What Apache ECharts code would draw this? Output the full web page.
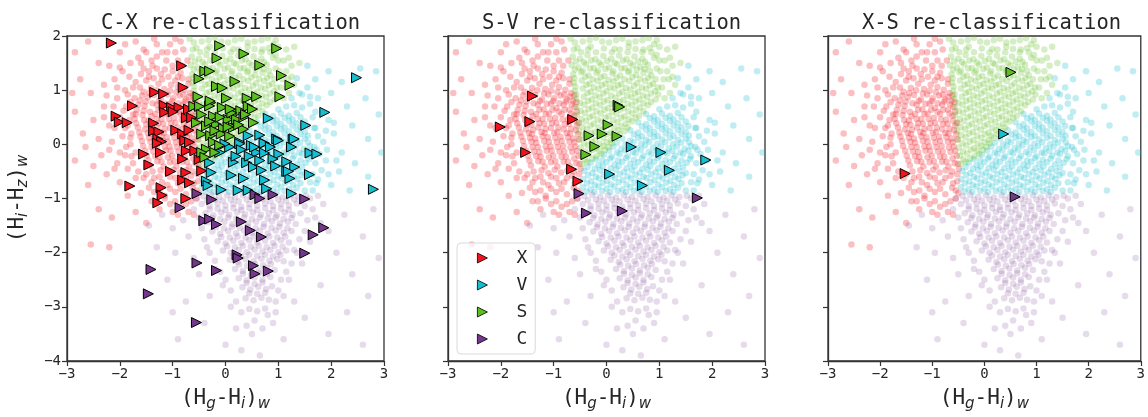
<!DOCTYPE html>
<html><head><meta charset="utf-8">
<script src="https://cdn.jsdelivr.net/npm/echarts@6/dist/echarts.min.js"></script>
<style>html,body{margin:0;padding:0;background:#fff}#c{width:1148px;height:417px}</style>
</head><body><div id="c"></div>
<script>
// ---------- tick labels / titles ----------
const xTicks = [-3,-2,-1,0,1,2,3];
const yTicks = [-4,-3,-2,-1,0,1,2];
const panelTitles = ['C-X re-classification','S-V re-classification','X-S re-classification'];
const classNames = ['X','V','S','C'];

// ---------- background population (shared by all panels) ----------
const bgX = [
[-1.55,0.97],[-1.41,1.04],[-1.27,1.12],[-1.16,1.02],[-1.03,1.1],[-0.9,1.06],[-0.78,1.01],[-0.67,0.95],
[-1.62,0.81],[-1.47,0.87],[-1.35,0.91],[-1.22,0.83],[-1.1,0.92],[-0.99,0.85],[-0.87,0.9],[-0.75,0.83],[-0.63,0.8],
[-1.68,0.64],[-1.53,0.71],[-1.43,0.6],[-1.3,0.73],[-1.19,0.65],[-1.05,0.75],[-0.95,0.67],[-0.81,0.73],[-0.7,0.64],[-0.6,0.69],
[-1.72,0.47],[-1.57,0.54],[-1.45,0.44],[-1.33,0.56],[-1.21,0.47],[-1.09,0.57],[-0.97,0.49],[-0.85,0.56],[-0.73,0.46],[-0.61,0.53],
[-1.66,0.31],[-1.5,0.37],[-1.39,0.27],[-1.27,0.39],[-1.15,0.29],[-1.03,0.39],[-0.91,0.31],[-0.79,0.37],[-0.67,0.29],[-0.56,0.35],
[-1.61,0.14],[-1.47,0.21],[-1.35,0.11],[-1.23,0.23],[-1.11,0.13],[-0.99,0.21],[-0.87,0.14],[-0.75,0.21],[-0.63,0.11],[-0.54,0.19],
[-1.56,-0.03],[-1.42,0.05],[-1.3,-0.05],[-1.18,0.06],[-1.06,-0.04],[-0.94,0.04],[-0.82,-0.03],[-0.7,0.05],[-0.59,-0.04],
[-1.49,-0.21],[-1.37,-0.13],[-1.25,-0.23],[-1.13,-0.12],[-1.01,-0.21],[-0.89,-0.13],[-0.77,-0.23],[-0.65,-0.14],[-0.53,-0.21],
[-1.43,-0.39],[-1.29,-0.31],[-1.17,-0.41],[-1.05,-0.33],[-0.93,-0.41],[-0.81,-0.32],[-0.69,-0.41],[-0.57,-0.35],[-0.49,-0.45],
[-1.5,1.18],[-1.36,1.22],[-1.2,1.2],[-1.08,1.25],[-0.95,1.18],[-0.82,1.22],[-0.7,1.12],
[-1.58,0.9],[-1.44,0.95],[-1.31,1.0],[-1.18,0.94],[-1.05,0.99],[-0.93,0.96],[-0.8,0.92],[-0.69,0.88],[-0.61,0.9],
[-1.65,0.73],[-1.51,0.79],[-1.38,0.76],[-1.26,0.8],[-1.13,0.75],[-1.01,0.8],[-0.89,0.76],[-0.77,0.79],[-0.66,0.74],[-0.57,0.78],
[-1.7,0.56],[-1.55,0.62],[-1.4,0.52],[-1.27,0.64],[-1.15,0.56],[-1.02,0.64],[-0.9,0.6],[-0.79,0.64],[-0.67,0.57],[-0.56,0.6],
[-1.69,0.39],[-1.54,0.45],[-1.42,0.36],[-1.3,0.47],[-1.18,0.38],[-1.07,0.47],[-0.95,0.4],[-0.83,0.46],[-0.71,0.38],[-0.6,0.44],[-0.52,0.4],
[-1.63,0.22],[-1.52,0.28],[-1.41,0.19],[-1.29,0.31],[-1.17,0.21],[-1.05,0.3],[-0.93,0.23],[-0.81,0.28],[-0.69,0.2],[-0.58,0.26],
[-1.58,0.06],[-1.45,0.12],[-1.33,0.03],[-1.21,0.15],[-1.09,0.05],[-0.97,0.12],[-0.85,0.06],[-0.73,0.13],[-0.61,0.04],[-0.52,0.09],
[-1.52,-0.12],[-1.4,-0.05],[-1.27,-0.14],[-1.15,-0.04],[-1.04,-0.12],[-0.92,-0.05],[-0.8,-0.13],[-0.68,-0.06],[-0.56,-0.12],
[-1.46,-0.3],[-1.33,-0.22],[-1.21,-0.32],[-1.09,-0.24],[-0.97,-0.31],[-0.85,-0.23],[-0.73,-0.32],[-0.61,-0.26],[-0.51,-0.36],
[-1.38,-0.5],[-1.23,-0.48],[-1.1,-0.53],[-0.98,-0.47],[-0.86,-0.52],[-0.74,-0.48],[-0.62,-0.5],[-0.52,-0.55],
[-1.82,1.25],[-1.75,1.05],[-1.85,0.92],[-1.8,0.78],[-1.93,0.62],[-1.82,0.45],[-1.9,0.3],[-1.8,0.12],[-1.88,-0.05],[-1.78,-0.22],[-1.85,-0.45],[-1.7,-0.62],
[-2.05,1.05],[-2.12,0.7],[-2.1,0.3],[-2.15,0.05],[-2.0,-0.15],[-2.1,-0.45],[-2.3,0.5],[-2.35,-0.2],[-2.0,1.42],[-2.25,0.9],
[-1.5,-0.55],[-1.35,-0.62],[-1.2,-0.7],[-1.05,-0.6],[-0.9,-0.72],[-0.75,-0.62],[-0.6,-0.72],[-1.45,-0.8],[-1.25,-0.85],[-1.05,-0.82],[-0.85,-0.82],[-0.62,-0.8],[-0.5,-0.9],
[-1.15,-1.0],[-0.95,-1.05],[-0.75,-1.1],[-0.55,-1.0],[-1.3,-1.05],[-1.0,-1.25],[-0.6,-1.3],
[-1.6,1.3],[-1.45,1.35],[-1.3,1.4],[-1.15,1.38],[-1.0,1.45],[-0.85,1.32],[-1.6,1.5],[-1.4,1.55],[-1.2,1.7],[-0.9,1.55],[-0.8,1.75],[-1.1,1.7],[-1.55,1.75],[-1.35,1.95],[-0.95,1.95],
[-2.1,1.2],[-1.95,1.35],[-1.8,1.5],[-1.65,1.6],[-1.5,1.7],[-1.3,1.62],[-1.12,1.55],[-0.95,1.7],[-0.82,1.45],[-1.0,1.35],
[-1.22,1.3],[-1.45,1.25],[-1.7,1.15],[-1.9,1.0],[-2.05,0.85],[-1.88,0.7],[-2.0,0.5],[-1.85,0.35],[-1.95,0.15],[-1.8,0.0],
[-1.9,-0.2],[-1.75,-0.35],[-1.65,-0.5],[-1.55,-0.62],[-1.4,-0.7],[-1.25,-0.6],[-1.1,-0.75],[-0.95,-0.62],[-0.8,-0.7],[-0.65,-0.58],
[-0.52,-0.68],[-1.35,-0.88],[-1.15,-0.95],[-0.95,-0.88],[-0.75,-0.92],[-0.55,-0.85],[-1.05,-1.1],[-0.85,-1.15],[-0.65,-1.05],
[-1.25,-1.2],[-0.9,-1.3],[-0.7,-1.25],[-1.75,0.55],[-1.78,0.2],[-1.7,-0.15],[-1.72,0.85],[-1.62,1.05],[-1.55,1.4],[-1.38,1.45],
[-0.9,1.25],[-0.7,1.2],[-0.72,1.55],[-1.05,1.85],[-1.3,1.85],[-0.85,1.9],
[-2.85,1.7],[-2.6,1.9],[-2.4,1.5],[-2.75,1.2],[-2.55,0.95],[-2.3,1.1],[-2.85,0.6],[-2.5,0.45],[-2.3,0.7],[-2.7,0.2],
[-2.4,0.1],[-2.2,-0.1],[-2.85,-0.3],[-2.5,-0.4],[-2.25,-0.55],[-2.0,-0.7],[-2.6,-0.75],[-1.85,-0.95],[-2.4,-1.2],[-2.15,-1.35],
[-1.7,-1.25],[-2.55,-1.85],[-2.2,-1.9],[-1.5,-1.45],[-2.0,1.7],[-2.2,1.45],[-2.2,0.35],[-2.05,-0.35],[-1.6,-0.9],[-1.4,-1.05],
[-1.9,1.85],[-1.7,1.9],[-2.65,-0.05],[-2.9,0.95]
];
const bgS = [
[-0.68,1.95],[-0.45,1.9],[-0.2,1.97],[0.05,1.88],[0.3,1.95],[0.55,1.9],[0.8,1.96],[-0.55,1.78],[-0.3,1.8],[0.15,1.76],[0.42,1.8],[0.7,1.75],[1.0,1.8],
[-0.64,1.62],[-0.5,1.58],[-0.36,1.65],[-0.21,1.57],[-0.06,1.63],[0.09,1.58],[0.24,1.64],[0.38,1.57],[0.53,1.62],[0.68,1.58],
[-0.66,1.46],[-0.53,1.42],[-0.39,1.48],[-0.24,1.41],[-0.1,1.47],[0.05,1.42],[0.2,1.48],[0.35,1.41],[0.5,1.46],[0.64,1.43],[0.78,1.47],
[-0.63,1.29],[-0.48,1.33],[-0.34,1.27],[-0.19,1.32],[-0.04,1.26],[0.11,1.31],[0.26,1.27],[0.41,1.33],[0.56,1.28],[0.7,1.32],[0.85,1.27],
[-0.62,1.14],[-0.47,1.18],[-0.32,1.12],[-0.17,1.17],[-0.02,1.12],[0.13,1.16],[0.28,1.11],[0.43,1.17],[0.58,1.13],[0.73,1.17],[0.88,1.12],
[-0.6,0.99],[-0.45,1.03],[-0.3,0.97],[-0.15,1.02],[0.0,0.98],[0.15,1.03],[0.3,0.97],[0.45,1.01],[0.6,0.97],[0.75,1.02],[0.92,0.98],
[-0.58,0.84],[-0.43,0.88],[-0.28,0.83],[-0.13,0.87],[0.02,0.82],[0.17,0.86],[0.32,0.82],[0.47,0.87],[0.62,0.83],[0.77,0.87],[0.93,0.83],
[-0.57,0.69],[-0.42,0.73],[-0.27,0.68],[-0.12,0.72],[0.03,0.67],[0.18,0.71],[0.33,0.67],[0.48,0.72],[0.63,0.68],[0.78,0.72],
[-0.56,0.54],[-0.41,0.58],[-0.26,0.53],[-0.11,0.57],[0.04,0.52],[0.19,0.56],[0.34,0.52],[0.49,0.57],[0.62,0.53],
[-0.54,0.39],[-0.39,0.43],[-0.24,0.38],[-0.09,0.42],[0.06,0.37],[0.21,0.41],[0.36,0.38],[0.48,0.42],
[-0.52,0.24],[-0.37,0.28],[-0.22,0.23],[-0.07,0.27],[0.08,0.22],[0.22,0.26],[0.34,0.24],
[-0.51,0.09],[-0.36,0.13],[-0.21,0.08],[-0.06,0.12],[0.08,0.08],[0.18,0.12],
[-0.49,-0.06],[-0.35,-0.02],[-0.2,-0.07],[-0.06,-0.03],[0.04,-0.05],
[-0.47,-0.21],[-0.33,-0.17],[-0.19,-0.22],[-0.1,-0.18],[-0.46,-0.36],[-0.36,-0.32],
[-0.58,1.53],[-0.43,1.52],[-0.29,1.55],[-0.14,1.51],[0.01,1.54],[0.16,1.5],[0.31,1.55],[0.45,1.5],[0.6,1.53],[0.73,1.52],
[-0.6,1.38],[-0.45,1.36],[-0.31,1.4],[-0.16,1.36],[-0.02,1.39],[0.13,1.35],[0.28,1.4],[0.43,1.36],[0.57,1.38],[0.72,1.39],[0.82,1.36],
[-0.61,1.22],[-0.4,1.25],[-0.26,1.2],[-0.11,1.24],[0.04,1.19],[0.19,1.23],[0.34,1.2],[0.49,1.24],[0.64,1.21],[0.79,1.23],[0.93,1.2],
[-0.59,1.07],[-0.38,1.1],[-0.24,1.05],[-0.09,1.09],[0.07,1.05],[0.22,1.09],[0.37,1.04],[0.52,1.08],[0.67,1.05],[0.82,1.09],[0.97,1.05],
[-0.57,0.92],[-0.36,0.95],[-0.21,0.9],[-0.06,0.94],[0.09,0.9],[0.24,0.94],[0.39,0.9],[0.54,0.94],[0.69,0.9],[0.84,0.94],
[-0.5,0.77],[-0.35,0.8],[-0.2,0.76],[-0.05,0.79],[0.1,0.75],[0.25,0.79],[0.4,0.75],[0.55,0.79],[0.7,0.76],[0.84,0.78],
[-0.49,0.62],[-0.34,0.65],[-0.19,0.61],[-0.04,0.64],[0.11,0.6],[0.26,0.64],[0.41,0.61],[0.56,0.64],[0.7,0.61],
[-0.47,0.47],[-0.32,0.5],[-0.17,0.46],[-0.02,0.49],[0.13,0.45],[0.28,0.49],[0.42,0.46],[0.55,0.49],
[-0.45,0.32],[-0.3,0.35],[-0.15,0.31],[0.0,0.34],[0.15,0.3],[0.28,0.33],[0.4,0.31],
[-0.44,0.17],[-0.29,0.2],[-0.14,0.16],[0.01,0.19],[0.13,0.16],[0.25,0.19],
[-0.42,0.02],[-0.28,0.05],[-0.13,0.01],[0.0,0.04],[0.1,0.02],
[-0.41,-0.13],[-0.26,-0.1],[-0.14,-0.12],[-0.03,-0.1],[-0.4,-0.28],[-0.27,-0.26],
[0.95,1.4],[1.0,1.55],[0.9,1.6],[1.08,1.2],[1.15,1.35],[0.98,0.92],[1.1,0.85],[1.25,1.25],[1.2,1.6],[0.85,1.7],
[-0.62,1.75],[-0.48,1.7],[-0.35,1.75],[-0.2,1.7],[-0.05,1.77],[0.1,1.7],[0.25,1.75],[0.4,1.7],[0.55,1.76],[0.68,1.7],[0.82,1.78],
[-0.6,1.88],[-0.32,1.92],[-0.08,1.9],[0.18,1.92],[0.42,1.88],[0.68,1.92],[0.95,1.92],[1.3,1.8],[1.4,1.5],
[1.02,1.35],[1.18,1.2],[1.1,1.55],[0.95,1.65],[1.25,1.45],[1.05,1.05],[1.2,0.95],[1.3,1.1],[0.9,1.85],[1.15,1.75]
];
const bgV = [
[0.75,0.56],[0.9,0.52],[1.05,0.57],[1.2,0.53],[1.35,0.58],
[0.6,0.41],[0.75,0.37],[0.9,0.42],[1.05,0.38],[1.2,0.43],[1.35,0.39],[1.5,0.42],
[0.45,0.26],[0.6,0.22],[0.75,0.27],[0.9,0.23],[1.05,0.28],[1.2,0.24],[1.35,0.27],[1.5,0.23],
[0.3,0.11],[0.45,0.07],[0.6,0.12],[0.75,0.08],[0.9,0.13],[1.05,0.09],[1.2,0.12],[1.35,0.08],[1.5,0.11],
[0.13,-0.04],[0.28,-0.08],[0.43,-0.03],[0.58,-0.07],[0.73,-0.02],[0.88,-0.06],[1.03,-0.03],[1.18,-0.07],[1.33,-0.04],[1.48,-0.08],[1.6,-0.03],
[-0.05,-0.19],[0.1,-0.23],[0.25,-0.18],[0.4,-0.22],[0.55,-0.17],[0.7,-0.21],[0.85,-0.18],[1.0,-0.22],[1.15,-0.17],[1.3,-0.21],[1.45,-0.18],[1.6,-0.22],
[-0.3,-0.34],[-0.15,-0.38],[0.0,-0.33],[0.15,-0.37],[0.3,-0.32],[0.45,-0.36],[0.6,-0.33],[0.75,-0.37],[0.9,-0.32],[1.05,-0.36],[1.2,-0.33],[1.35,-0.37],[1.52,-0.34],
[-0.42,-0.49],[-0.27,-0.53],[-0.12,-0.48],[0.03,-0.52],[0.18,-0.47],[0.33,-0.51],[0.48,-0.48],[0.63,-0.52],[0.78,-0.47],[0.93,-0.51],[1.08,-0.48],[1.23,-0.52],[1.38,-0.49],[1.5,-0.53],
[-0.44,-0.64],[-0.29,-0.68],[-0.14,-0.63],[0.01,-0.67],[0.16,-0.62],[0.31,-0.66],[0.46,-0.63],[0.61,-0.67],[0.76,-0.62],[0.91,-0.66],[1.06,-0.63],[1.21,-0.67],[1.36,-0.64],
[-0.45,-0.79],[-0.3,-0.83],[-0.15,-0.78],[0.0,-0.82],[0.15,-0.78],[0.3,-0.83],[0.45,-0.79],[0.6,-0.82],[0.75,-0.78],[0.9,-0.83],[1.05,-0.79],[1.2,-0.83],[1.35,-0.8],
[0.82,0.48],[0.97,0.45],[1.12,0.49],[1.27,0.46],[1.42,0.5],
[0.67,0.33],[0.82,0.3],[0.97,0.34],[1.12,0.31],[1.27,0.35],[1.42,0.31],[1.55,0.34],
[0.52,0.18],[0.67,0.15],[0.82,0.19],[0.97,0.16],[1.12,0.2],[1.27,0.16],[1.42,0.19],[1.56,0.16],
[0.2,0.03],[0.36,0.0],[0.51,0.04],[0.66,0.01],[0.81,0.05],[0.96,0.01],[1.11,0.04],[1.26,0.0],[1.41,0.03],[1.56,0.04],
[0.05,-0.12],[0.2,-0.15],[0.35,-0.11],[0.5,-0.14],[0.65,-0.1],[0.8,-0.14],[0.95,-0.11],[1.1,-0.15],[1.25,-0.12],[1.4,-0.15],[1.55,-0.12],
[-0.2,-0.27],[-0.08,-0.3],[0.07,-0.26],[0.22,-0.3],[0.37,-0.25],[0.52,-0.29],[0.67,-0.26],[0.82,-0.3],[0.97,-0.25],[1.12,-0.29],[1.27,-0.26],[1.42,-0.3],[1.58,-0.27],
[-0.36,-0.42],[-0.22,-0.45],[-0.07,-0.41],[0.08,-0.44],[0.23,-0.4],[0.38,-0.44],[0.53,-0.41],[0.68,-0.45],[0.83,-0.4],[0.98,-0.44],[1.13,-0.41],[1.28,-0.45],[1.45,-0.42],
[-0.35,-0.57],[-0.2,-0.6],[-0.05,-0.56],[0.1,-0.59],[0.25,-0.55],[0.4,-0.59],[0.55,-0.56],[0.7,-0.6],[0.85,-0.55],[1.0,-0.59],[1.15,-0.56],[1.3,-0.6],[1.44,-0.57],
[-0.37,-0.72],[-0.22,-0.75],[-0.07,-0.71],[0.08,-0.74],[0.23,-0.7],[0.38,-0.74],[0.53,-0.71],[0.68,-0.75],[0.83,-0.7],[0.98,-0.74],[1.13,-0.71],[1.28,-0.75],[1.42,-0.72],
[-0.38,-0.87],[-0.23,-0.88],[-0.08,-0.86],[0.07,-0.88],[0.22,-0.86],[0.37,-0.88],[0.52,-0.86],[0.67,-0.88],[0.82,-0.86],[0.97,-0.88],[1.12,-0.86],[1.27,-0.88],
[1.65,0.5],[1.7,0.3],[1.75,0.15],[1.68,-0.05],[1.78,-0.18],[1.7,-0.35],[1.82,-0.48],[1.65,-0.55],[1.72,-0.72],[1.9,0.25],[1.92,-0.1],[1.95,-0.55],[2.05,0.4],[2.1,-0.3],
[1.0,0.65],[1.15,0.7],[1.3,0.72],[1.45,0.68],[1.6,0.75],[1.25,0.85],[1.4,0.95],[1.55,1.05],[1.6,0.88],[1.5,-0.85],[1.6,-0.7],
[1.55,1.45],[1.35,1.22],[1.45,0.92],[1.7,1.2],[1.95,1.35],[2.2,1.15],[2.55,1.4],[2.85,1.35],[1.75,0.85],[2.0,0.95],[2.3,0.7],
[2.65,0.85],[2.9,0.55],[1.7,0.6],[1.95,0.45],[1.68,0.3],[2.05,0.2],[2.4,0.35],[2.7,0.1],[2.95,-0.15],[1.72,-0.1],[1.9,-0.3],
[2.15,-0.5],[2.45,-0.35],[2.7,-0.6],[1.75,-0.65],[2.0,-0.75],[2.35,-0.85],[1.65,-0.85],[1.85,0.05],[2.2,-0.15]
];
const bgC = [
[-0.42,-0.96],[-0.27,-0.93],[-0.12,-0.97],[0.03,-0.94],[0.18,-0.98],[0.33,-0.94],[0.48,-0.97],[0.63,-0.93],[0.78,-0.97],[0.93,-0.94],[1.08,-0.98],[1.23,-0.94],[1.38,-0.97],[1.52,-0.95],
[-0.45,-1.1],[-0.3,-1.14],[-0.15,-1.09],[0.0,-1.13],[0.15,-1.1],[0.3,-1.15],[0.45,-1.1],[0.6,-1.13],[0.75,-1.09],[0.9,-1.14],[1.05,-1.1],[1.2,-1.13],[1.35,-1.09],[1.5,-1.14],
[-0.38,-1.27],[-0.23,-1.31],[-0.08,-1.26],[0.07,-1.3],[0.22,-1.25],[0.37,-1.29],[0.52,-1.26],[0.67,-1.3],[0.82,-1.27],[0.97,-1.31],[1.12,-1.26],[1.27,-1.3],[1.42,-1.27],
[-0.32,-1.44],[-0.17,-1.48],[-0.02,-1.43],[0.13,-1.47],[0.28,-1.42],[0.43,-1.46],[0.58,-1.43],[0.73,-1.47],[0.88,-1.42],[1.03,-1.46],[1.18,-1.43],[1.33,-1.47],
[-0.25,-1.61],[-0.1,-1.65],[0.05,-1.6],[0.2,-1.64],[0.35,-1.59],[0.5,-1.63],[0.65,-1.6],[0.8,-1.64],[0.95,-1.59],[1.1,-1.63],[1.25,-1.6],
[-0.15,-1.79],[0.0,-1.83],[0.15,-1.78],[0.3,-1.82],[0.45,-1.77],[0.6,-1.81],[0.75,-1.78],[0.9,-1.82],[1.05,-1.77],[1.2,-1.81],
[-0.05,-1.96],[0.1,-2.0],[0.25,-1.95],[0.4,-1.99],[0.55,-1.94],[0.7,-1.98],[0.85,-1.95],[1.0,-1.99],[1.15,-1.96],
[0.08,-2.13],[0.23,-2.17],[0.38,-2.12],[0.53,-2.16],[0.68,-2.11],[0.83,-2.15],[0.98,-2.12],[1.1,-2.16],
[0.18,-2.3],[0.33,-2.34],[0.48,-2.29],[0.63,-2.33],[0.78,-2.28],[0.93,-2.32],
[0.25,-2.47],[0.4,-2.51],[0.55,-2.46],[0.7,-2.5],[0.85,-2.45],
[0.32,-2.64],[0.47,-2.68],[0.62,-2.63],[0.77,-2.67],[0.88,-2.62],
[0.38,-2.84],[0.53,-2.88],[0.68,-2.83],[0.82,-2.87],[0.45,-3.04],[0.6,-3.08],[0.75,-3.03],
[-0.35,-1.03],[-0.2,-1.02],[-0.05,-1.04],[0.1,-1.02],[0.25,-1.05],[0.4,-1.02],[0.55,-1.04],[0.7,-1.01],[0.85,-1.05],[1.0,-1.02],[1.15,-1.04],[1.3,-1.02],
[-0.3,-1.2],[-0.15,-1.19],[0.0,-1.21],[0.15,-1.18],[0.3,-1.21],[0.45,-1.18],[0.6,-1.21],[0.75,-1.18],[0.9,-1.21],[1.05,-1.19],[1.2,-1.21],
[-0.25,-1.36],[-0.1,-1.38],[0.05,-1.35],[0.2,-1.37],[0.35,-1.35],[0.5,-1.38],[0.65,-1.35],[0.8,-1.37],[0.95,-1.35],[1.1,-1.38],[1.25,-1.36],
[-0.18,-1.53],[-0.03,-1.55],[0.12,-1.52],[0.27,-1.54],[0.42,-1.52],[0.57,-1.55],[0.72,-1.52],[0.87,-1.54],[1.02,-1.52],[1.17,-1.55],
[-0.08,-1.71],[0.08,-1.72],[0.23,-1.7],[0.38,-1.72],[0.53,-1.7],[0.68,-1.72],[0.83,-1.7],[0.98,-1.72],[1.13,-1.7],
[0.03,-1.88],[0.18,-1.9],[0.33,-1.87],[0.48,-1.89],[0.63,-1.87],[0.78,-1.9],[0.93,-1.87],[1.08,-1.89],
[0.15,-2.05],[0.3,-2.07],[0.45,-2.04],[0.6,-2.06],[0.75,-2.04],[0.9,-2.07],[1.04,-2.04],
[0.26,-2.22],[0.41,-2.24],[0.56,-2.21],[0.71,-2.23],[0.86,-2.21],
[0.33,-2.39],[0.48,-2.41],[0.63,-2.38],[0.78,-2.4],[0.4,-2.56],[0.55,-2.58],[0.7,-2.55],[0.45,-2.75],[0.6,-2.76],[0.75,-2.74],
[-0.55,-1.0],[-0.6,-1.2],[-0.5,-1.35],[-0.45,-1.55],[-0.4,-1.75],[-0.3,-2.0],[-0.2,-2.15],[-0.1,-2.35],[0.0,-2.5],[0.1,-2.7],[0.2,-2.9],
[1.6,-1.0],[1.65,-1.2],[1.55,-1.4],[1.5,-1.6],[1.4,-1.75],[1.35,-2.0],[1.25,-2.2],[1.15,-2.35],[1.05,-2.5],[1.0,-2.7],[0.95,-2.9],[1.8,-1.45],[1.75,-0.95],
[0.3,-3.1],[0.55,-3.25],[0.8,-3.15],[0.4,-3.35],[0.7,-3.4],[0.95,-3.1],
[-1.45,-1.5],[-1.2,-1.3],[-1.0,-1.55],[-0.8,-1.4],[-0.7,-1.7],[-1.3,-1.9],[-0.95,-2.0],[-0.6,-2.1],[-0.35,-1.9],[-0.5,-2.4],
[-1.1,-2.5],[-0.2,-2.3],[-0.05,-2.6],[-0.3,-2.8],[-0.75,-2.9],[-1.0,-3.1],[-0.4,-3.3],[0.1,-3.0],[0.2,-3.4],[0.5,-3.5],
[0.9,-3.3],[0.3,-3.8],[0.65,-3.9],[1.1,-3.6],[1.3,-2.9],[1.2,-2.5],[1.45,-2.2],[1.6,-1.8],[1.7,-1.35],[1.85,-1.1],
[1.95,-1.6],[2.1,-2.0],[2.25,-1.3],[2.4,-2.4],[2.6,-1.7],[2.8,-1.2],[2.9,-2.1],[2.7,-2.8],[2.3,-3.1],[1.8,-2.6],
[1.5,-3.2],[1.95,-3.5],[2.6,-3.7],[1.3,-1.95],[1.1,-2.8],[-0.9,-3.6],[0.0,-3.7]
];

// ---------- re-classified objects, panel 1: C-X ----------
const cxX = [
[-2.16,1.87],[-0.83,1.45],[-0.8,1.05],[-1.34,0.96],[-1.17,0.93],[-1.76,0.71],[-2.07,0.52],[-2.01,0.41],[-1.86,0.4],
[-1.16,0.72],[-1.02,0.68],[-0.88,0.68],[-1.15,0.59],[-0.99,0.6],[-0.74,0.49],[-0.64,0.49],[-1.36,0.39],[-1.36,0.25],
[-1.26,0.23],[-0.94,0.26],[-0.81,0.19],[-0.69,0.26],[-1.28,0.1],[-1.21,0.05],[-1.29,0.02],[-0.77,0.07],[-0.68,0.04],
[-1.55,-0.18],[-1.23,-0.15],[-0.74,-0.12],[-0.58,-0.12],[-0.81,-0.27],[-0.5,-0.28],[-1.45,-0.38],[-1.04,-0.5],[-0.75,-0.52],
[-0.45,-0.49],[-0.81,-0.66],[-0.68,-0.71],[-1.81,-0.77],[-1.22,-0.8],[-1.2,-0.94],[-1.28,-1.08],[-0.75,-1.0],[-0.7,0.65]
];
const cxV = [
[2.48,1.23],[1.88,0.59],[0.81,0.48],[1.52,0.35],[0.65,0.17],[0.43,0.16],[0.97,0.1],[1.28,0.09],[0.74,0.02],[0.49,-0.02],
[0.27,0.04],[0.08,-0.05],[-0.11,-0.15],[0.59,-0.15],[1.01,-0.18],[1.25,-0.05],[1.6,-0.16],[1.73,-0.18],[0.74,-0.16],[0.9,-0.27],
[1.16,-0.32],[0.15,-0.33],[0.4,-0.34],[0.53,-0.42],[0.68,-0.48],[1.16,-0.5],[1.31,-0.42],[1.59,-0.56],[1.22,-0.63],[-0.3,-0.34],
[-0.27,-0.52],[0.11,-0.57],[0.34,-0.63],[0.74,-0.66],[-0.36,-0.68],[-0.33,-0.76],[-0.08,-0.84],[0.24,-0.85],[0.43,-0.85],
[0.78,-0.82],[1.25,-0.91],[2.8,-0.83],[-0.01,0.01],[1.0,0.07],[0.27,0.01],[0.73,0.02],[0.3,-0.1],[0.55,-0.05],[0.85,-0.05],
[0.2,-0.22],[0.45,-0.22],[0.95,-0.4],[0.65,-0.3],[1.3,0.1],[1.19,-0.5]
];
const cxS = [
[-0.11,1.82],[-0.16,1.59],[0.35,1.67],[0.97,1.77],[0.65,1.46],[-0.39,1.35],[-0.3,1.35],[-0.5,1.21],[0.18,1.16],[1.06,1.27],
[1.22,1.09],[-0.17,1.07],[-0.06,1.04],[-0.52,0.88],[0.02,0.85],[0.41,0.85],[0.59,0.88],[1.03,0.88],[-0.28,0.77],[-0.6,0.7],
[-0.49,0.7],[-0.3,0.71],[-0.06,0.68],[0.15,0.62],[0.29,0.62],[0.43,0.7],[0.51,0.65],[-0.23,0.52],[0.05,0.46],[0.21,0.46],
[0.53,0.4],[-0.55,0.4],[-0.36,0.34],[-0.17,0.37],[-0.04,0.29],[0.15,0.31],[0.34,0.28],[-0.45,0.19],[-0.28,0.16],[-0.08,0.19],
[0.08,0.15],[-0.23,0.04],[-0.11,-0.02],[-0.36,-0.09],[-0.45,-0.15],[-0.2,-0.15],[-0.39,-0.24],[-0.1,0.5],[0.35,0.5],[-0.3,0.42],
[0.05,0.32],[0.25,0.36],[-0.45,0.55],[0.12,0.58],[-0.2,0.25],[0.38,0.55],[-0.29,0.8],[0.09,0.65]
];
const cxC = [
[-0.86,-1.17],[-0.54,-0.91],[-0.26,-1.02],[-0.41,-1.41],[-0.3,-1.38],[-0.17,-1.48],[0.3,-1.43],[0.47,-1.59],[0.68,-1.71],
[0.56,-0.93],[0.65,-1.0],[0.9,-0.93],[1.5,-1.01],[1.86,-1.54],[1.66,-1.67],[1.5,-2.01],[0.22,-2.04],[0.24,-2.1],[0.53,-2.24],
[0.56,-2.39],[0.81,-2.34],[-0.17,-2.33],[-0.54,-2.19],[-1.41,-2.31],[-1.46,-2.76],[-0.55,-3.29]
];
// ---------- panel 2: S-V ----------
const svX = [[-1.4,0.89],[-2.01,0.32],[-1.45,0.42],[-0.64,0.46],[-1.53,-0.15],[-0.66,-0.46],[-0.54,-0.68]];
const svV = [[0.47,-0.05],[1.03,-0.15],[1.88,-0.29],[1.19,-0.48],[0.06,-0.55],[0.68,-0.76]];
const svS = [[0.22,0.72],[0.25,0.69],[0.03,0.36],[-0.33,0.16],[-0.08,0.19],[0.2,0.15],[-0.22,-0.04],[-0.39,-0.19]];
const svC = [[-0.52,-0.91],[-0.38,-1.27],[0.3,-1.23],[1.72,-0.99]];
// ---------- panel 3: X-S ----------
const xsX = [[-1.52,-0.54]];
const xsV = [[0.37,0.19]];
const xsS = [[0.51,1.33]];
const xsC = [[0.59,-0.97]];

// ---------- styling ----------
const colors = {X:'#f0141c', V:'#17becf', S:'#5cbf1f', C:'#74378c'};
const bgOpacity = {X:0.27, V:0.27, S:0.26, C:0.18};
const gridLefts = [67, 448, 828];
const gridW = 317, gridTop = 36, gridH = 328;
const spine = '#333333';
const mono = 'DejaVu Sans Mono';
const minus = v => String(v).replace('-', '\u2212');

const subStyle = {fontFamily:'DejaVu Sans', fontStyle:'italic', fontSize:15, lineHeight:15, verticalAlign:'bottom', color:'#262626'};
const mainStyle = {fontFamily: mono, fontSize:21, lineHeight:26, color:'#262626'};

const grids = [], xAxes = [], yAxes = [], titles = [], series = [];
const bgSets = {X:bgX, V:bgV, S:bgS, C:bgC};
const fg = [
  {X:cxX, V:cxV, S:cxS, C:cxC},
  {X:svX, V:svV, S:svS, C:svC},
  {X:xsX, V:xsV, S:xsS, C:xsC}
];
for (let i = 0; i < 3; i++) {
  grids.push({left: gridLefts[i], top: gridTop, width: gridW, height: gridH, show: true,
    borderColor: spine, borderWidth: 1.3, backgroundColor: 'transparent', containLabel: false});
  xAxes.push({gridIndex: i, type:'value', min:-3, max:3, interval:1,
    axisLine:{show:true, onZero:false, lineStyle:{color:spine, width:1.3}},
    axisTick:{show:true, length:5, lineStyle:{color:spine, width:1.2}},
    splitLine:{show:false},
    axisLabel:{fontFamily:mono, fontSize:14, color:'#262626', margin:6, formatter: minus},
    name:'(H{s|g}-H{s|i}){s|w}', nameLocation:'middle', nameGap:25,
    nameTextStyle:Object.assign({}, mainStyle, {rich:{s:subStyle}})
  });
  yAxes.push({gridIndex: i, type:'value', min:-4, max:2, interval:1,
    axisLine:{show:true, onZero:false, lineStyle:{color:spine, width:1.3}},
    axisTick:{show:true, length:5, lineStyle:{color:spine, width:1.2}},
    splitLine:{show:false},
    axisLabel:{show: i === 0, fontFamily:mono, fontSize:14, color:'#262626', margin:6, formatter: minus},
    name: i === 0 ? '(H{s|i}-H{s|z}){s|w}' : '', nameLocation:'middle', nameGap:36, nameRotate:90,
    nameTextStyle:Object.assign({}, mainStyle, {rich:{s:subStyle}})
  });
  titles.push({text: panelTitles[i], left: gridLefts[i] + gridW/2, top: 8, textAlign:'center',
    textStyle:{fontFamily:mono, fontSize:20.5, fontWeight:'normal', color:'#262626'}});
  classNames.forEach(k => {
    series.push({type:'scatter', name:'bg'+k, xAxisIndex:i, yAxisIndex:i, data: bgSets[k],
      symbol:'circle', symbolSize:6.5, silent:true, z:1,
      itemStyle:{color: colors[k], opacity: bgOpacity[k], borderWidth:0}});
  });
  classNames.forEach((k, j) => {
    series.push({type:'scatter', name:k, xAxisIndex:i, yAxisIndex:i, data: fg[i][k],
      symbol:'triangle', symbolRotate:-90, symbolSize:10, z:3 + j,
      itemStyle:{color: colors[k], borderColor:'#000', borderWidth:1, opacity:1}});
  });
}

const chart = echarts.init(document.getElementById('c'), null, {renderer:'canvas'});
chart.setOption({
  animation:false,
  title: titles,
  grid: grids, xAxis: xAxes, yAxis: yAxes,
  legend: {data: classNames, orient:'vertical', left: 457, top: 243,
    icon:'path://M0,0 L10,5 L0,10 Z', itemWidth:10, itemHeight:10, itemGap:7,
    padding:[5, 8, 5, 20], borderColor:'#d9d9d9', borderWidth:1, borderRadius:4,
    backgroundColor:'rgba(255,255,255,0.8)',
    textStyle:{fontFamily:mono, fontSize:18, lineHeight:20, color:'#262626', padding:[0,0,0,24]},
    itemStyle:{borderColor:'#000', borderWidth:0.8}},
  series: series
});
</script></body></html>
